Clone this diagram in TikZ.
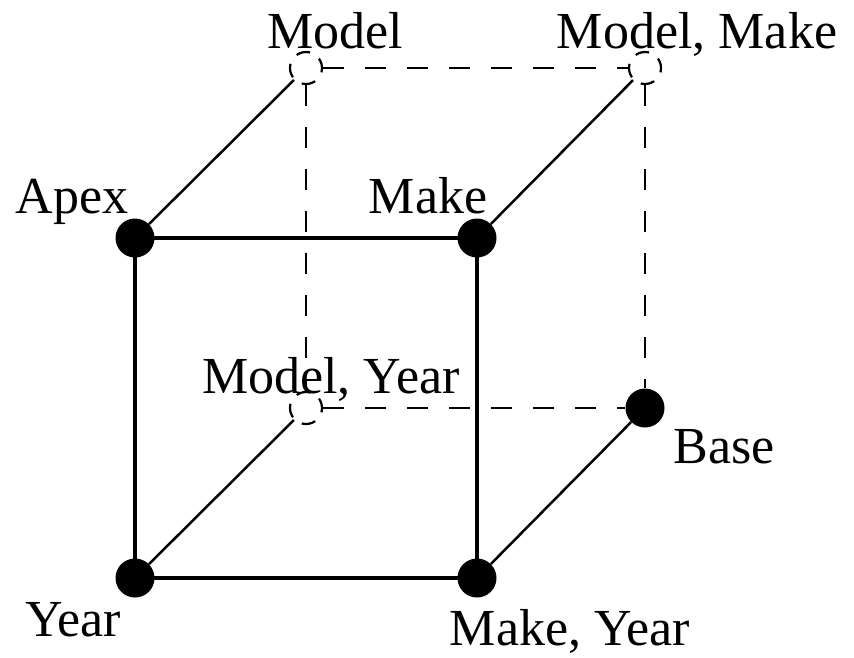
\documentclass[tikz,border=0pt]{standalone}
\usepackage{fontspec}
\setmainfont{Liberation Serif}
\begin{document}
\begin{tikzpicture}[x=1pt,y=-1pt,
  dot/.style={circle,fill=black,inner sep=0pt,minimum size=39pt},
  hollow/.style={circle,draw=black,dash pattern=on 14pt off 11pt,dash phase=4pt,line width=2.2pt,inner sep=0pt,minimum size=32pt},
  lbl/.style={anchor=base,inner sep=0pt,font=\fontsize{52}{60}\selectfont},
  front/.style={line width=3.8pt},
  diag/.style={line width=2.5pt},
  back/.style={line width=2.8pt,dash pattern=on 21pt off 21pt}]
\useasboundingbox (0,0) rectangle (854,657);
\node[dot] (apex) at (135,238) {};
\node[dot] (make) at (477,238) {};
\node[dot] (year) at (135,578) {};
\node[dot] (makeyear) at (477,578) {};
\node[dot] (base) at (645,408) {};
\node[hollow] (model) at (306,68) {};
\node[hollow] (modelmake) at (645,68) {};
\node[hollow] (modelyear) at (306,408) {};
\draw[back] (model) -- (modelmake);
\draw[back] (model) -- (modelyear);
\draw[back] (modelmake) -- (base);
\draw[back] (modelyear) -- (base);
\draw[diag] (apex) -- (model);
\draw[diag] (make) -- (modelmake);
\draw[diag] (year) -- (modelyear);
\draw[diag] (makeyear) -- (base);
\draw[front] (apex.center) -- (make.center) -- (makeyear.center) -- (year.center) -- cycle;
\node[lbl] (tmodel) at (335,48) {Model};
\node[lbl] (tmodelmake) at (697,48) {Model, Make};
\node[lbl] (tapex) at (72,213) {Apex};
\node[lbl] (tmake) at (428,213) {Make};
\node[lbl] (tmodelyear) at (331,393) {Model, Year};
\node[lbl] (tbase) at (724,463) {Base};
\node[lbl] (tyear) at (73,636) {Year};
\node[lbl] (tmakeyear) at (570,645) {Make, Year};
\end{tikzpicture}
\end{document}
